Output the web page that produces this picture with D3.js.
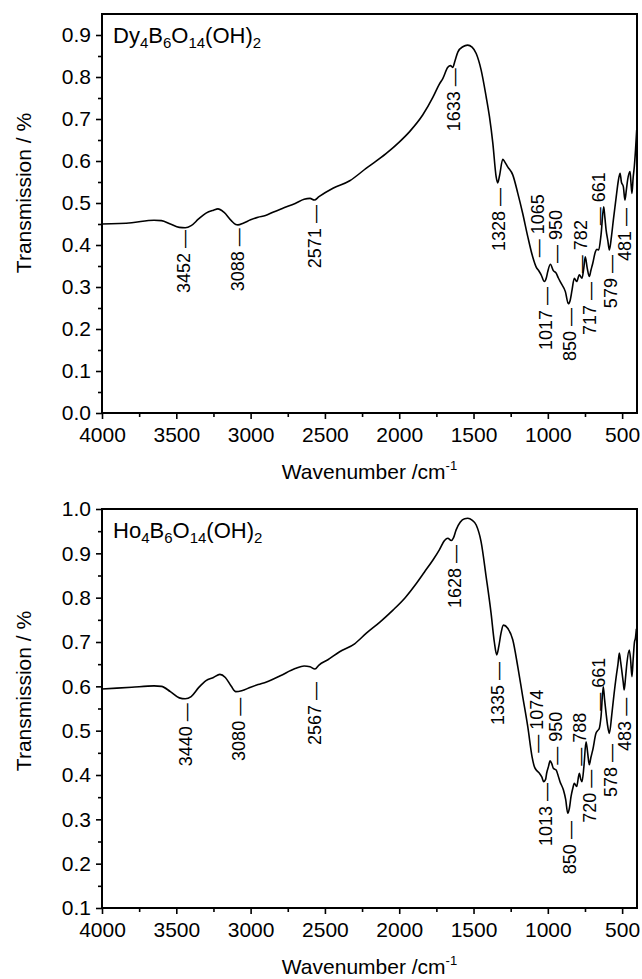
<!DOCTYPE html>
<html>
<head>
<meta charset="utf-8">
<script src="https://cdn.jsdelivr.net/npm/d3@7/dist/d3.min.js"></script>
<style>
  body { margin: 0; background: #fff; }
  svg { display: block; font-family: "Liberation Sans", Arial, Helvetica, sans-serif; }
</style>
</head>
<body>
<svg id="chart" width="642" height="979"></svg>
<script>
// Dy4B6O14(OH)2 spectrum
const dyWavenumber = [4000, 3800, 3650, 3600, 3540, 3480, 3440, 3400, 3350, 3300, 3250, 3220, 3180, 3130, 3100, 3085, 3050, 3000, 2950, 2900,
  2850, 2780, 2700, 2640, 2600, 2571, 2540, 2446, 2333, 2221, 2087, 2000, 1930, 1841, 1773, 1730, 1706, 1673, 1655, 1640,
  1625, 1605, 1572, 1540, 1510, 1482, 1449, 1415, 1393, 1370, 1348, 1337, 1325, 1303, 1290, 1270, 1236, 1202, 1169, 1135,
  1102, 1079, 1060, 1045, 1023, 1010, 1001, 983, 963, 944, 930, 911, 882, 862, 850, 837, 822, 806, 788, 770,
  758, 748, 735, 721, 710, 698, 680, 670, 658, 642, 624, 616, 608, 596, 586, 572, 559, 537, 527, 514,
  505, 492, 481, 472, 463, 447, 441, 434, 426, 418, 410, 402];
const dyTransmission = [0.450, 0.453, 0.459, 0.458, 0.450, 0.442, 0.441, 0.446, 0.462, 0.476, 0.483, 0.486, 0.478, 0.458, 0.449, 0.448, 0.452, 0.460, 0.466, 0.470,
  0.478, 0.488, 0.499, 0.509, 0.511, 0.507, 0.515, 0.535, 0.553, 0.583, 0.618, 0.645, 0.670, 0.710, 0.752, 0.783, 0.797, 0.823, 0.827, 0.823,
  0.838, 0.860, 0.872, 0.876, 0.871, 0.856, 0.817, 0.753, 0.706, 0.642, 0.563, 0.548, 0.565, 0.604, 0.598, 0.586, 0.567, 0.523, 0.475, 0.420,
  0.372, 0.348, 0.338, 0.329, 0.313, 0.322, 0.336, 0.354, 0.339, 0.333, 0.322, 0.309, 0.289, 0.260, 0.268, 0.293, 0.321, 0.313, 0.329, 0.321,
  0.345, 0.372, 0.345, 0.325, 0.340, 0.356, 0.384, 0.390, 0.388, 0.424, 0.491, 0.465, 0.436, 0.410, 0.388, 0.420, 0.460, 0.523, 0.550, 0.571,
  0.550, 0.539, 0.507, 0.530, 0.555, 0.575, 0.550, 0.523, 0.560, 0.587, 0.626, 0.674];

// Ho4B6O14(OH)2 spectrum
const hoWavenumber = [4000, 3800, 3650, 3600, 3540, 3480, 3440, 3400, 3350, 3300, 3250, 3207, 3170, 3130, 3100, 3060, 3000, 2950, 2893, 2800,
  2700, 2640, 2600, 2567, 2540, 2480, 2401, 2300, 2221, 2130, 2042, 1960, 1885, 1830, 1773, 1730, 1695, 1673, 1650, 1635,
  1617, 1590, 1560, 1539, 1510, 1482, 1449, 1415, 1382, 1360, 1344, 1330, 1315, 1299, 1270, 1236, 1202, 1169, 1135, 1106,
  1091, 1075, 1057, 1040, 1028, 1015, 1008, 995, 985, 973, 963, 944, 930, 918, 895, 880, 866, 855, 844, 832,
  822, 806, 788, 778, 770, 757, 743, 732, 721, 710, 698, 676, 665, 654, 642, 627, 618, 608, 597, 586,
  570, 559, 537, 528, 519, 510, 503, 493, 486, 477, 468, 452, 443, 434, 426, 418, 410, 404];
const hoTransmission = [0.594, 0.598, 0.601, 0.600, 0.588, 0.574, 0.572, 0.577, 0.597, 0.613, 0.620, 0.627, 0.620, 0.600, 0.588, 0.590, 0.598, 0.604, 0.610, 0.624,
  0.640, 0.646, 0.644, 0.639, 0.648, 0.660, 0.678, 0.696, 0.720, 0.745, 0.772, 0.800, 0.832, 0.858, 0.885, 0.908, 0.929, 0.934, 0.929, 0.935,
  0.953, 0.970, 0.978, 0.979, 0.975, 0.964, 0.926, 0.847, 0.765, 0.700, 0.671, 0.690, 0.720, 0.738, 0.731, 0.705, 0.644, 0.577, 0.509, 0.441,
  0.419, 0.410, 0.404, 0.395, 0.385, 0.390, 0.404, 0.420, 0.432, 0.425, 0.415, 0.411, 0.398, 0.385, 0.366, 0.345, 0.314, 0.325, 0.351, 0.370,
  0.381, 0.374, 0.404, 0.390, 0.385, 0.420, 0.475, 0.450, 0.423, 0.440, 0.456, 0.494, 0.500, 0.505, 0.532, 0.599, 0.570, 0.539, 0.510, 0.494,
  0.535, 0.569, 0.629, 0.650, 0.675, 0.655, 0.637, 0.610, 0.592, 0.620, 0.652, 0.682, 0.660, 0.622, 0.660, 0.697, 0.710, 0.730];

// peak labels: wavenumber, side of the curve, transmission where the dash ends
const dyPeakWn = [3452, 3088, 2571, 1633, 1328, 1065, 950, 1017, 850, 782, 717, 661, 579, 481];
const dyPeakSide = ['below', 'below', 'below', 'below', 'below', 'above', 'above', 'below', 'below', 'above', 'below', 'above', 'below', 'below'];
const dyPeakLevel = [0.436, 0.440, 0.495, 0.821, 0.536, 0.371, 0.357, 0.300, 0.250, 0.333, 0.312, 0.447, 0.376, 0.488];

const hoPeakWn = [3440, 3080, 2567, 1628, 1335, 1074, 950, 1013, 850, 788, 720, 661, 578, 483];
const hoPeakSide = ['below', 'below', 'below', 'below', 'below', 'above', 'above', 'below', 'below', 'above', 'below', 'above', 'below', 'below'];
const hoPeakLevel = [0.562, 0.574, 0.610, 0.919, 0.655, 0.450, 0.423, 0.382, 0.296, 0.421, 0.412, 0.545, 0.470, 0.574];

const xMajorTicks = [4000, 3500, 3000, 2500, 2000, 1500, 1000, 500];
const xMinorTicks = [3750, 3250, 2750, 2250, 1750, 1250, 750];
const dyYTicks = [0.0, 0.1, 0.2, 0.3, 0.4, 0.5, 0.6, 0.7, 0.8, 0.9];
const hoYTicks = [0.1, 0.2, 0.3, 0.4, 0.5, 0.6, 0.7, 0.8, 0.9, 1.0];

const svg = d3.select('#chart');
const left = 102, right = 637;

const x = d3.scaleLinear().domain([4000, 400]).range([left, right]);

const panels = [
  { wn: dyWavenumber, t: dyTransmission, peakWn: dyPeakWn, peakSide: dyPeakSide, peakLevel: dyPeakLevel,
    top: 14, bottom: 413, yDomain: [0, 0.95], yTicks: dyYTicks,
    formula: ['Dy', '4', 'B', '6', 'O', '14', '(OH)', '2'], yTitleY: 193 },
  { wn: hoWavenumber, t: hoTransmission, peakWn: hoPeakWn, peakSide: hoPeakSide, peakLevel: hoPeakLevel,
    top: 509, bottom: 908, yDomain: [0.1, 1.0], yTicks: hoYTicks,
    formula: ['Ho', '4', 'B', '6', 'O', '14', '(OH)', '2'], yTitleY: 691 }
];

panels.forEach(p => {
  const y = d3.scaleLinear().domain(p.yDomain).range([p.bottom, p.top]);
  const g = svg.append('g');

  // minor ticks between the labelled ones
  const yMinor = p.yTicks.slice(0, -1).map(v => v + 0.05);

  g.append('g')
    .attr('transform', `translate(0,${p.bottom})`)
    .call(d3.axisBottom(x).tickValues(xMajorTicks).tickSize(6).tickPadding(8).tickFormat(d3.format('d')));
  g.append('g')
    .attr('transform', `translate(0,${p.bottom})`)
    .call(d3.axisBottom(x).tickValues(xMinorTicks).tickSize(4).tickFormat(''));

  g.append('g')
    .attr('transform', `translate(${left},0)`)
    .call(d3.axisLeft(y).tickValues(p.yTicks).tickSize(6).tickPadding(5).tickFormat(d3.format('.1f')));
  g.append('g')
    .attr('transform', `translate(${left},0)`)
    .call(d3.axisLeft(y).tickValues(yMinor).tickSize(4).tickFormat(''));

  g.selectAll('.domain').remove();
  g.selectAll('.tick line').attr('stroke', '#000').attr('stroke-width', 1.6);
  g.selectAll('.tick text').attr('fill', '#000').attr('font-size', 21);

  // frame
  g.append('rect')
    .attr('x', left).attr('y', p.top)
    .attr('width', right - left).attr('height', p.bottom - p.top)
    .attr('fill', 'none').attr('stroke', '#000').attr('stroke-width', 2);

  // spectrum
  const line = d3.line()
    .x((d, i) => x(p.wn[i]))
    .y((d, i) => y(p.t[i]))
    .curve(d3.curveMonotoneX);
  g.append('path')
    .datum(p.wn)
    .attr('d', line)
    .attr('fill', 'none')
    .attr('stroke', '#000')
    .attr('stroke-width', 1.6)
    .attr('stroke-linejoin', 'round');

  // peak labels
  g.selectAll('.peak')
    .data(p.peakWn)
    .join('text')
    .attr('class', 'peak')
    .attr('transform', (d, i) => `translate(${x(d)},${y(p.peakLevel[i])}) rotate(-90)`)
    .attr('dy', '0.35em')
    .attr('font-size', 18)
    .attr('fill', '#000')
    .attr('text-anchor', (d, i) => p.peakSide[i] === 'below' ? 'end' : 'start')
    .text((d, i) => p.peakSide[i] === 'below' ? `${d} \u2014` : `\u2014 ${d}`);

  // compound label
  const label = g.append('text')
    .attr('x', 113).attr('y', p.top + 29)
    .attr('font-size', 22);
  p.formula.forEach((part, i) => {
    const sub = i % 2 === 1;
    label.append('tspan')
      .attr('font-size', sub ? 15 : 22)
      .attr('dy', sub ? 5 : (i > 0 ? -5 : 0))
      .text(part);
  });

  // axis titles
  const xt = g.append('text')
    .attr('x', (left + right) / 2).attr('y', p.bottom + 66)
    .attr('text-anchor', 'middle')
    .attr('font-size', 21)
    .text('Wavenumber /cm');
  xt.append('tspan').attr('font-size', 13).attr('dy', -9).text('-1');

  g.append('text')
    .attr('transform', `translate(31,${p.yTitleY}) rotate(-90)`)
    .attr('text-anchor', 'middle')
    .attr('font-size', 21)
    .text('Transmission / %');
});
</script>
</body>
</html>
